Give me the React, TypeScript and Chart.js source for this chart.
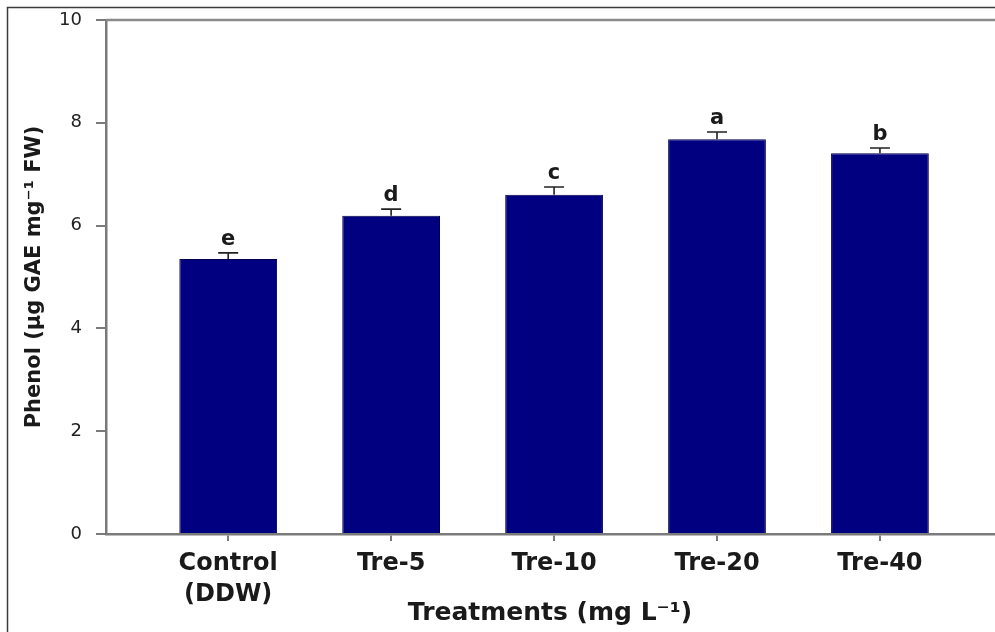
import React, { useEffect, useRef } from 'react';
import { Chart, registerables } from 'chart.js';

Chart.register(...registerables);

const categoryLabels: string[][] = [['Control', '(DDW)'], ['Tre-5'], ['Tre-10'], ['Tre-20'], ['Tre-40']];
const phenolMeans: number[] = [5.35, 6.19, 6.6, 7.68, 7.41];
const phenolErrors: number[] = [0.12, 0.13, 0.15, 0.14, 0.1];
const significanceLetters: string[] = ['e', 'd', 'c', 'a', 'b'];
const yTickValues: number[] = [0, 2, 4, 6, 8, 10];

const FONT = '"DejaVu Sans", "Liberation Sans", sans-serif';
const TEXT = '#1a1a1a';
const AXIS = '#7a7a7a';

export default function App() {
  const ref = useRef<HTMLCanvasElement>(null);

  useEffect(() => {
    if (!ref.current) return;

    const framePlugin = {
      id: 'frame',
      beforeDraw(chart: any) {
        const { ctx } = chart;
        ctx.save();
        ctx.fillStyle = '#ffffff';
        ctx.fillRect(0, 0, chart.width, chart.height);
        ctx.strokeStyle = '#3c3c3c';
        ctx.lineWidth = 1.5;
        ctx.beginPath();
        ctx.moveTo(7.5, chart.height);
        ctx.lineTo(7.5, 7.5);
        ctx.lineTo(chart.width, 7.5);
        ctx.stroke();
        ctx.restore();
      },
      afterDraw(chart: any) {
        const { ctx, chartArea } = chart;
        ctx.save();
        ctx.strokeStyle = '#8a8a8a';
        ctx.lineWidth = 2.5;
        ctx.beginPath();
        ctx.moveTo(chartArea.left, chartArea.top);
        ctx.lineTo(chart.width, chartArea.top);
        ctx.stroke();
        ctx.restore();
      },
    };

    const errorPlugin = {
      id: 'errorBars',
      afterDatasetsDraw(chart: any) {
        const { ctx } = chart;
        const xs = chart.scales.x;
        const ys = chart.scales.y;
        ctx.save();
        phenolMeans.forEach((v, i) => {
          const x = xs.getPixelForValue(i);
          const yBar = ys.getPixelForValue(v);
          const yTop = ys.getPixelForValue(v + phenolErrors[i]);
          ctx.strokeStyle = '#222222';
          ctx.lineWidth = 1.6;
          ctx.beginPath();
          ctx.moveTo(x, yBar);
          ctx.lineTo(x, yTop);
          ctx.moveTo(x - 10, yTop);
          ctx.lineTo(x + 10, yTop);
          ctx.stroke();
          ctx.fillStyle = TEXT;
          ctx.font = `bold 21px ${FONT}`;
          ctx.textAlign = 'center';
          ctx.textBaseline = 'alphabetic';
          ctx.fillText(significanceLetters[i], x, yTop - 8);
        });
        ctx.restore();
      },
    };

    const chart = new Chart(ref.current, {
      type: 'bar',
      data: {
        datasets: [
          {
            label: 'Phenol',
            data: phenolMeans.map((v, i) => ({ x: i, y: v })),
            backgroundColor: '#000080',
            borderColor: '#00004a',
            borderWidth: 1,
            categoryPercentage: 0.8,
            barPercentage: 0.75,
          },
        ],
      },
      options: {
        animation: false,
        responsive: true,
        maintainAspectRatio: false,
        layout: { padding: { left: 0, top: 20, right: 1, bottom: 0 } },
        plugins: {
          legend: { display: false },
          tooltip: { enabled: false },
        },
        scales: {
          x: {
            type: 'linear',
            offset: false,
            min: -0.75,
            max: 4.7,
            afterBuildTicks(scale: any) {
              scale.ticks = categoryLabels.map((_, i) => ({ value: i }));
            },
            afterFit(scale: any) {
              scale.height = 98;
              scale.paddingLeft = 0;
              scale.paddingRight = 0;
            },
            grid: {
              offset: false,
              drawOnChartArea: false,
              drawTicks: true,
              tickLength: 7,
              color: AXIS,
              lineWidth: 2,
            },
            border: { display: true, color: AXIS, width: 2.5 },
            ticks: {
              autoSkip: false,
              maxRotation: 0,
              padding: 7,
              color: TEXT,
              font: { family: FONT, size: 24, weight: 'bold', lineHeight: 1.3 },
              callback: (value: any) => categoryLabels[Math.round(Number(value))] ?? '',
            },
            title: {
              display: true,
              text: 'Treatments (mg L⁻¹)',
              color: TEXT,
              font: { family: FONT, size: 25, weight: 'bold', lineHeight: 1.2 },
              padding: { top: 0, bottom: 4 },
            },
          },
          y: {
            min: 0,
            max: 10,
            afterBuildTicks(scale: any) {
              scale.ticks = yTickValues.map((v) => ({ value: v }));
            },
            afterFit(scale: any) {
              scale.width = 106;
              scale.paddingTop = 0;
              scale.paddingBottom = 0;
            },
            grid: {
              drawOnChartArea: false,
              drawTicks: true,
              tickLength: 10,
              color: AXIS,
              lineWidth: 2,
            },
            border: { display: true, color: AXIS, width: 2.5 },
            ticks: {
              padding: 14,
              color: '#222222',
              font: { family: FONT, size: 18 },
            },
            title: {
              display: true,
              text: 'Phenol (μg GAE mg⁻¹ FW)',
              color: TEXT,
              font: { family: FONT, size: 21, weight: 'bold', lineHeight: 1.2 },
              padding: { top: 22, bottom: 0 },
            },
          },
        },
      },
      plugins: [framePlugin, errorPlugin],
    } as any);

    return () => chart.destroy();
  }, []);

  return (
    <div style={{ position: 'absolute', left: 0, top: 0, width: 995, height: 632, background: '#fff' }}>
      <canvas ref={ref} />
    </div>
  );
}
